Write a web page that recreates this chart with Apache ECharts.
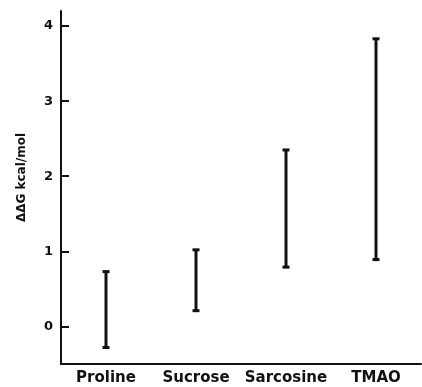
<!DOCTYPE html>
<html>
<head>
<meta charset="utf-8">
<script src="https://cdn.jsdelivr.net/npm/echarts@6/dist/echarts.min.js"></script>
<style>
  html, body { margin: 0; padding: 0; background: #fff; }
  #main { width: 422px; height: 387px; }
</style>
</head>
<body>
<div id="main"></div>
<script>
// 数据
var categories = ['Proline', 'Sucrose', 'Sarcosine', 'TMAO'];
var lowValues = [-0.28, 0.21, 0.79, 0.89];
var highValues = [0.73, 1.02, 2.35, 3.83];
var yTicks = [0, 1, 2, 3, 4];

var chart = echarts.init(document.getElementById('main'));

var barData = categories.map(function (c, i) {
	return [i, lowValues[i], highValues[i]];
});

var option = {
	animation: false,
	grid: { left: 61, right: 1, top: 11, bottom: 23, containLabel: false },
	xAxis: {
		type: 'category',
		data: categories,
		axisLine: { onZero: false, lineStyle: { color: '#111', width: 2 } },
		axisTick: { show: false },
		axisLabel: {
			interval: 0,
			hideOverlap: false,
			color: '#111', fontFamily: 'DejaVu Sans', fontWeight: 'bold',
			fontSize: 15, margin: 7
		}
	},
	yAxis: {
		type: 'value',
		min: -0.5,
		max: 4.2,
		name: 'ΔΔG kcal/mol',
		nameLocation: 'middle',
		nameGap: 33,
		nameTextStyle: {
			color: '#111', fontFamily: 'DejaVu Sans', fontWeight: 'bold', fontSize: 12,
			padding: [0, 0, 0, 20]
		},
		splitLine: { show: false },
		axisLine: { show: true, lineStyle: { color: '#111', width: 2 } },
		axisTick: {
			show: true, inside: true, length: 8,
			customValues: yTicks,
			lineStyle: { color: '#111', width: 2 }
		},
		axisLabel: {
			customValues: yTicks,
			color: '#111', fontFamily: 'DejaVu Sans', fontWeight: 'bold',
			fontSize: 13, margin: 8
		}
	},
	series: [{
		type: 'custom',
		data: barData,
		encode: { x: 0, y: [1, 2] },
		renderItem: function (params, api) {
			var lo = api.coord([api.value(0), api.value(1)]);
			var hi = api.coord([api.value(0), api.value(2)]);
			var half = 3.5;
			var st = { stroke: '#111', lineWidth: 3 };
			return {
				type: 'group',
				children: [
					{ type: 'line', shape: { x1: lo[0], y1: lo[1], x2: hi[0], y2: hi[1] }, style: st },
					{ type: 'line', shape: { x1: lo[0] - half, y1: lo[1], x2: lo[0] + half, y2: lo[1] }, style: st },
					{ type: 'line', shape: { x1: hi[0] - half, y1: hi[1], x2: hi[0] + half, y2: hi[1] }, style: st }
				]
			};
		}
	}]
};

chart.setOption(option);
</script>
</body>
</html>
